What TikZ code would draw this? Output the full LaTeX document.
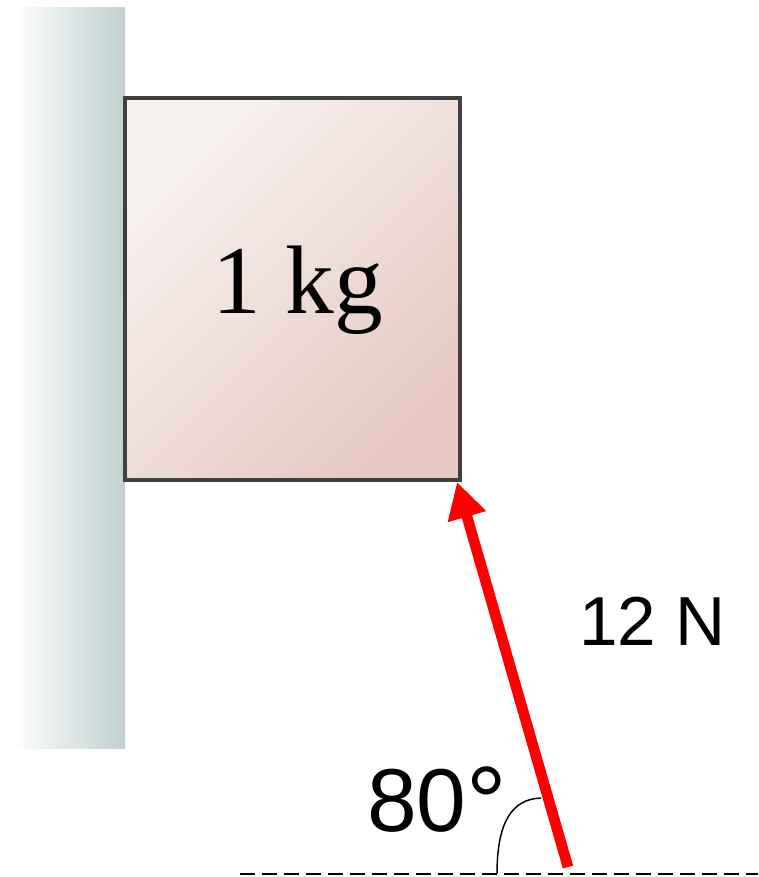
\documentclass[tikz,border=0pt]{standalone}
\usepackage{fontspec}
\setmainfont{Liberation Serif}
\newfontfamily\lsans{Liberation Sans}
\usetikzlibrary{arrows.meta}
\definecolor{wallc}{HTML}{BFD0CF}
\definecolor{boxlight}{HTML}{F8F2F0}
\definecolor{boxdark}{HTML}{E6C9C2}
\definecolor{edgec}{HTML}{404040}
\tikzset{
  force/.style={draw=red, line width=8pt, -{Triangle[length=27pt,width=28pt]}},
  guide/.style={draw=black, line width=2.1pt, dash pattern=on 11.5pt off 5pt},
  anglearc/.style={draw=black, line width=1.1pt},
}
\begin{document}
\begin{tikzpicture}[x=0.75pt,y=-0.75pt]
\useasboundingbox (0,0) rectangle (758,877);
% wall
\shade[left color=white, right color=wallc] (13,8) rectangle (125,748);
% box
\shade[top color=boxlight, bottom color=boxdark, shading angle=45] (125,98) rectangle (460,480);
\node[draw=edgec, line width=2.4pt, inner sep=0pt,
      minimum width=251.25pt, minimum height=286.5pt] (box) at (292.5,289) {};
\node[anchor=base, inner sep=0pt, font=\fontsize{73}{80}\selectfont] (mass) at (298,313) {1 kg};
% dashed guide line
\coordinate (gl) at (240,874);
\coordinate (gr) at (758,874);
\draw[guide] (gl) -- (gr);
% force arrow
\coordinate (tail) at (568,867);
\coordinate (tip) at (457,482);
\draw[force] (tail) -- (tip);
% angle arc
\coordinate (a0) at (497,874);
\coordinate (a1) at (541,798);
\draw[anglearc] (a0) .. controls (497,822) and (512,799) .. (a1);
% labels
\node[anchor=base west, inner sep=0pt, font=\lsans\fontsize{67}{70}\selectfont] (ang) at (367,831) {80\raisebox{-5pt}{\fontsize{76}{80}\selectfont °}};
\node[anchor=base west, inner sep=0pt, font=\lsans\fontsize{52}{60}\selectfont] (fl) at (579,645) {12 N};
\end{tikzpicture}
\end{document}
